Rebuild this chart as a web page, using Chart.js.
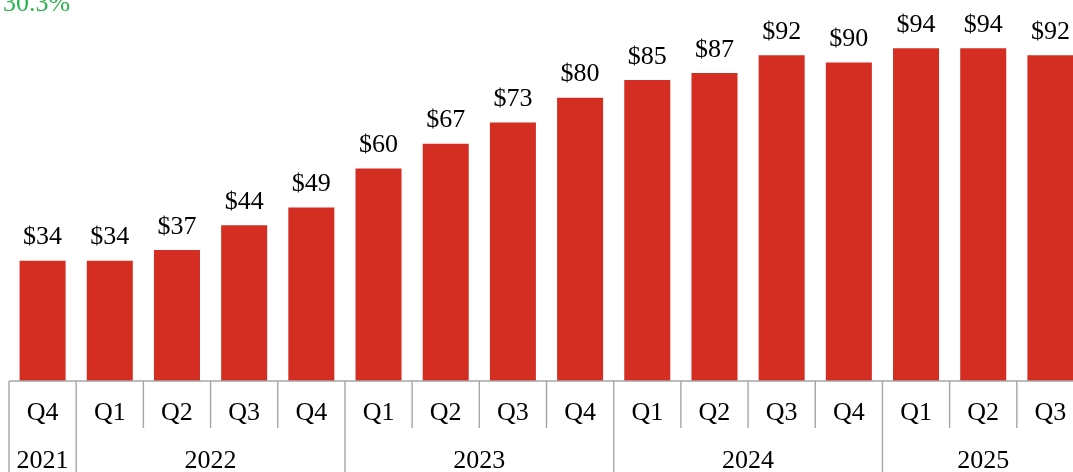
<!DOCTYPE html>
<html>
<head>
<meta charset="utf-8">
<script src="https://cdn.jsdelivr.net/npm/chart.js@4.4.1/dist/chart.umd.min.js"></script>
<style>
    html, body { margin: 0; padding: 0; background: #ffffff; overflow: hidden; }
    #wrap { width: 1090px; height: 472px; }
</style>
</head>
<body>
<div id="wrap"><canvas id="revenueChart" width="1090" height="472"></canvas></div>
<script>
// Quarterly values ($)
const quarters = ['Q4', 'Q1', 'Q2', 'Q3', 'Q4', 'Q1', 'Q2', 'Q3', 'Q4', 'Q1', 'Q2', 'Q3', 'Q4', 'Q1', 'Q2', 'Q3'];
const years = ['2021', '2022', '2022', '2022', '2022', '2023', '2023', '2023', '2023', '2024', '2024', '2024', '2024', '2025', '2025', '2025'];
const revenue = [34, 34, 37, 44, 49, 60, 67, 73, 80, 85, 87, 92, 90, 94, 94, 92];
const growthNote = '30.3%';

const FONT = '26px "Liberation Serif", "Times New Roman", serif';
const BAR_RED = '#D42E23';
const LINE_GRAY = '#A6A6A6';

// Draws value labels, the two-row category axis and the growth note
const axisPlugin = {
    id: 'quarterAxis',
    afterDraw(chart) {
        const ctx = chart.ctx;
        const x = chart.scales.x;
        const area = chart.chartArea;
        const meta = chart.getDatasetMeta(0);
        const step = (area.right - area.left) / quarters.length;
        const base = area.bottom;

        ctx.save();
        ctx.font = FONT;
        ctx.fillStyle = '#000000';
        ctx.textAlign = 'center';
        ctx.textBaseline = 'alphabetic';

        // value labels above bars
        meta.data.forEach((bar, i) => {
            ctx.fillText('$' + revenue[i], bar.x, bar.y - 16.5);
        });

        // axis line
        ctx.strokeStyle = LINE_GRAY;
        ctx.lineWidth = 1.4;
        ctx.beginPath();
        ctx.moveTo(area.left, base);
        ctx.lineTo(area.right, base);
        ctx.stroke();

        // quarter labels and separators
        quarters.forEach((q, i) => {
            const cx = x.getPixelForValue(i);
            ctx.fillText(q, cx, base + 39);
            const left = cx - step / 2;
            const newYear = i === 0 || years[i] !== years[i - 1];
            ctx.beginPath();
            ctx.moveTo(left, base);
            ctx.lineTo(left, newYear ? chart.height : base + 47);
            ctx.stroke();
        });
        const lastRight = x.getPixelForValue(quarters.length - 1) + step / 2;
        ctx.beginPath();
        ctx.moveTo(lastRight, base);
        ctx.lineTo(lastRight, base + 47);
        ctx.stroke();

        // year labels centred under their quarters
        let start = 0;
        for (let i = 1; i <= years.length; i++) {
            if (i === years.length || years[i] !== years[start]) {
                const cx = (x.getPixelForValue(start) + x.getPixelForValue(i - 1)) / 2;
                ctx.fillText(years[start], cx, base + 87);
                start = i;
            }
        }

        // growth note
        ctx.fillStyle = '#2BB24C';
        ctx.textAlign = 'left';
        ctx.fillText(growthNote, 3, 11);
        ctx.restore();
    }
};

new Chart(document.getElementById('revenueChart'), {
    type: 'bar',
    data: {
        labels: quarters,
        datasets: [{
            data: revenue,
            backgroundColor: BAR_RED,
            borderWidth: 0,
            categoryPercentage: 1,
            barPercentage: 0.685
        }]
    },
    options: {
        responsive: false,
        animation: false,
        layout: { padding: { left: 9, right: 6, top: 27, bottom: 91 } },
        scales: {
            x: { display: false, offset: true },
            y: { display: false, min: 0, max: 100 }
        },
        plugins: {
            legend: { display: false },
            tooltip: { enabled: false }
        }
    },
    plugins: [axisPlugin]
});
</script>
</body>
</html>
